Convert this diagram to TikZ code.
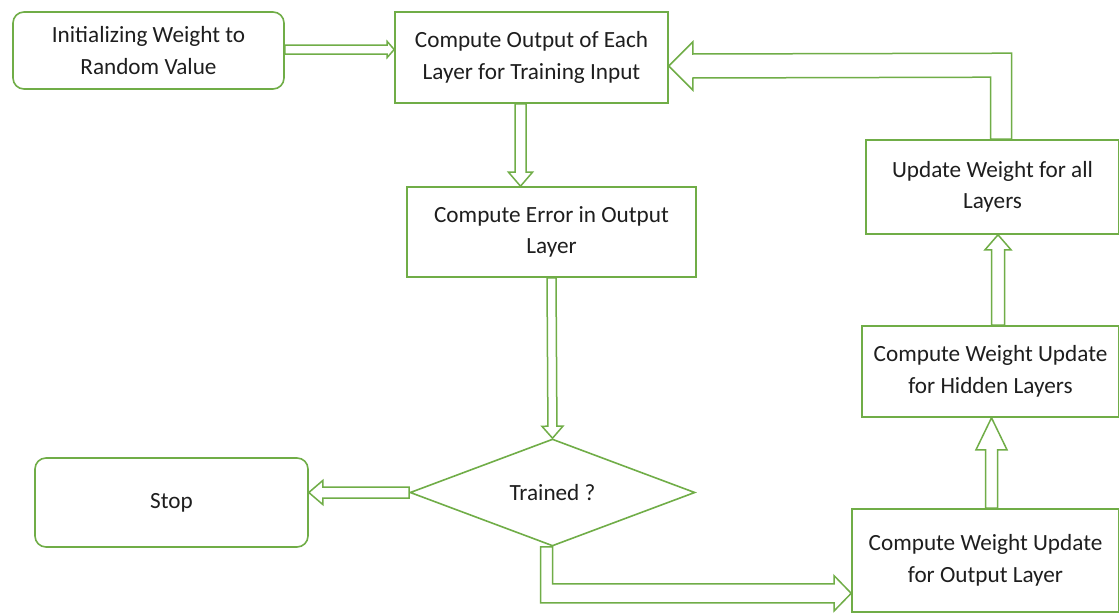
\documentclass[tikz,border=0pt]{standalone}
\usepackage{fontspec}
\setmainfont{Carlito}
\usetikzlibrary{calc,shapes.geometric}
\definecolor{gr}{HTML}{70AD47}
\definecolor{txt}{HTML}{1E1E1E}
\tikzset{
  box/.style={draw=gr, line width=1.6pt, fill=white, align=center, text=txt,
    inner sep=0pt, font=\fontsize{23.2}{31.5}\selectfont},
  rbox/.style={box, rounded corners=11pt},
  decision/.style={box, diamond, aspect=2.66},
  hollow/.style={draw=gr, line width=1.5pt, fill=white, line join=miter}
}
\newcommand\hollowarrow[5]{%
  \draw[hollow] let \p1=(#1), \p2=(#2),
    \n1={veclen(\x2-\x1,\y2-\y1)},
    \n2={(\x2-\x1)/\n1}, \n3={(\y2-\y1)/\n1} in
    ({\x1-(\n3)*#3},{\y1+(\n2)*#3})
    -- ({\x2-(\n2)*#5-(\n3)*#3},{\y2-(\n3)*#5+(\n2)*#3})
    -- ({\x2-(\n2)*#5-(\n3)*#4},{\y2-(\n3)*#5+(\n2)*#4})
    -- (\p2)
    -- ({\x2-(\n2)*#5+(\n3)*#4},{\y2-(\n3)*#5-(\n2)*#4})
    -- ({\x2-(\n2)*#5+(\n3)*#3},{\y2-(\n3)*#5-(\n2)*#3})
    -- ({\x1+(\n3)*#3},{\y1-(\n2)*#3}) -- cycle;}
\begin{document}
\begin{tikzpicture}[x=1pt,y=-1pt]
\useasboundingbox (0,0) rectangle (1119,613);
\fill[white] (0,0) rectangle (1119,613);
\clip (0,0) rectangle (1119,613);

\node[rbox, minimum width=271pt, minimum height=77pt] (init) at (148.5,50.5)
  {Initializing Weight to\\Random Value};
\node[box, minimum width=273pt, minimum height=91pt] (out) at (531.5,57.5)
  {Compute Output of Each\\Layer for Training Input};
\node[box, minimum width=289pt, minimum height=90pt] (err) at (551.5,232)
  {Compute Error in Output\\Layer};
\node[decision, minimum width=285pt, minimum height=107pt] (dia) at (552.5,492.5)
  {Trained ?};
\node[rbox, minimum width=273pt, minimum height=89pt] (stop) at (171.5,502.5)
  {Stop};
\node[box, minimum width=253pt, minimum height=94pt] (upd) at (992.5,187)
  {Update Weight for all\\Layers};
\node[box, minimum width=257pt, minimum height=91pt] (hid) at (990.5,371.5)
  {Compute Weight Update\\for Hidden Layers};
\node[box, minimum width=267pt, minimum height=103pt] (outl) at (985.5,560.5)
  {Compute Weight Update\\for Output Layer};

% straight hollow arrows
\hollowarrow{[yshift=1pt]init.east}{[yshift=1pt]out.west |- init.east}{4.5pt}{8pt}{7pt}
\hollowarrow{[xshift=-11pt]out.south}{[xshift=-11pt]out.south |- err.north}{5.5pt}{12pt}{14pt}
\hollowarrow{err.south}{dia.north}{4.5pt}{10.5pt}{12pt}
\hollowarrow{dia.west}{stop.east |- dia.west}{5.5pt}{12pt}{14pt}
\hollowarrow{[xshift=6pt]outl.north}{[xshift=6pt]outl.north |- hid.south}{6pt}{15.5pt}{32pt}
\hollowarrow{[xshift=7.5pt]hid.north}{[xshift=7.5pt]hid.north |- upd.south}{6.5pt}{13pt}{15pt}

% No: Trained? -> Compute Weight Update for Output Layer
\coordinate (bt) at ($(outl.west |- dia.south)+(0,46.5)$);
\draw[hollow] (dia.south) -- ++(0,37) -- ($(bt)+(-17,-9.5)$) -- ($(bt)+(-17,-17.5)$)
  -- (bt) -- ($(bt)+(-17,17.5)$) -- ($(bt)+(-17,9.5)$)
  -- ($(dia.south)+(-12,56)$) -- ($(dia.south)+(-12,0)$) -- cycle;

% Update Weight -> Compute Output (loop back)
\coordinate (ut) at ($(out.east)+(0,8.5)$);
\draw[hollow] ($(upd.north)+(-2,0)$) -- ($(upd.north)+(-2,-62)$)
  -- ($(ut)+(24,12)$) -- ($(ut)+(24,24)$) -- (ut) -- ($(ut)+(24,-24)$)
  -- ($(ut)+(24,-12)$) -- ($(upd.north)+(19,-86)$) -- ($(upd.north)+(19,0)$) -- cycle;
\end{tikzpicture}
\end{document}
